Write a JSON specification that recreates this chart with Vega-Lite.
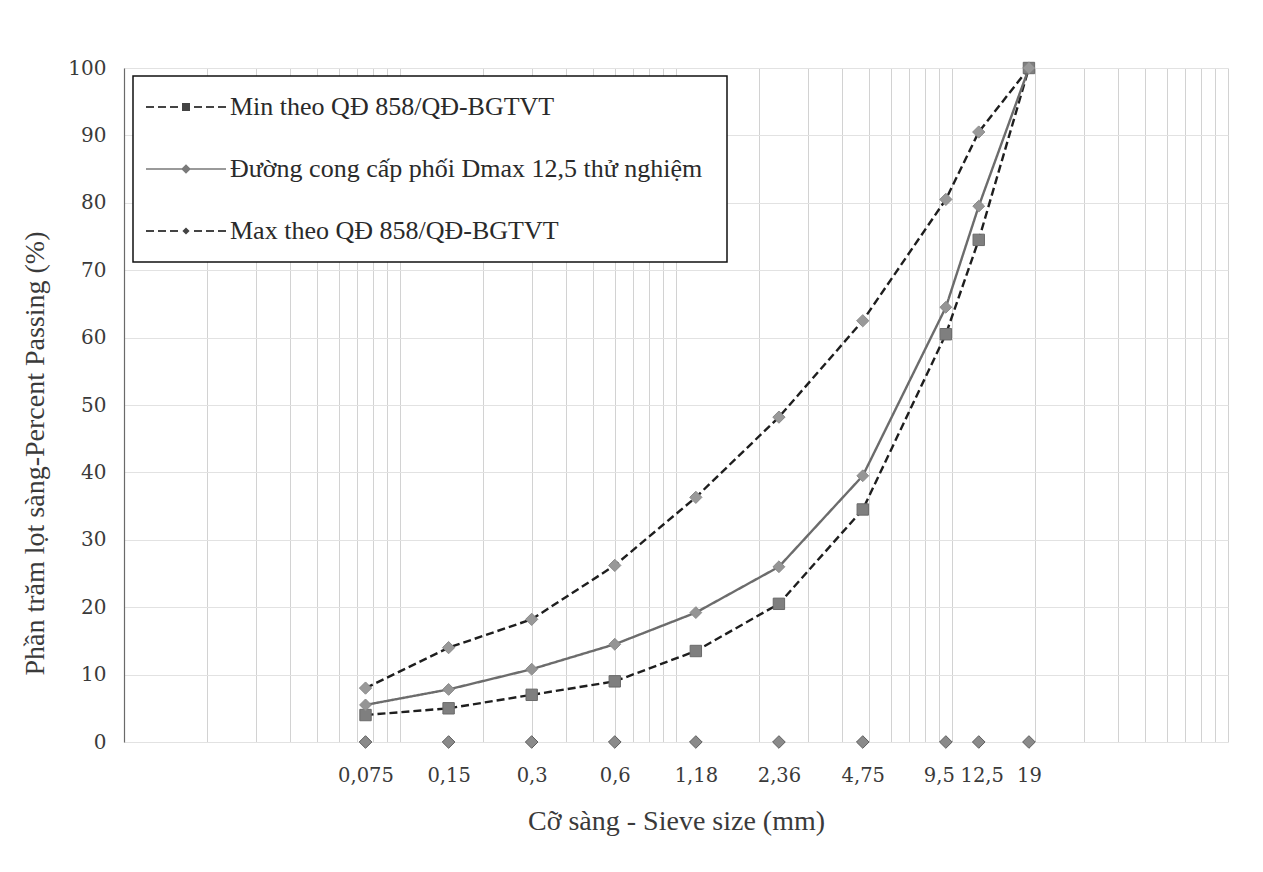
{
  "$schema": "https://vega.github.io/schema/vega-lite/v6.json",
  "width": 1104,
  "height": 674,
  "autosize": {"type": "none"},
  "padding": {"left": 124, "top": 68, "right": 35, "bottom": 130},
  "background": "white",
  "config": {
    "view": {"stroke": null},
    "font": "Liberation Serif"
  },
  "data": {
    "values": [
      {"size": 0.075, "series": "Min theo QĐ 858/QĐ-BGTVT", "pct": 4},
      {"size": 0.15, "series": "Min theo QĐ 858/QĐ-BGTVT", "pct": 5},
      {"size": 0.3, "series": "Min theo QĐ 858/QĐ-BGTVT", "pct": 7},
      {"size": 0.6, "series": "Min theo QĐ 858/QĐ-BGTVT", "pct": 9},
      {"size": 1.18, "series": "Min theo QĐ 858/QĐ-BGTVT", "pct": 13.5},
      {"size": 2.36, "series": "Min theo QĐ 858/QĐ-BGTVT", "pct": 20.5},
      {"size": 4.75, "series": "Min theo QĐ 858/QĐ-BGTVT", "pct": 34.5},
      {"size": 9.5, "series": "Min theo QĐ 858/QĐ-BGTVT", "pct": 60.5},
      {"size": 12.5, "series": "Min theo QĐ 858/QĐ-BGTVT", "pct": 74.5},
      {"size": 19, "series": "Min theo QĐ 858/QĐ-BGTVT", "pct": 100},
      {"size": 0.075, "series": "Đường cong cấp phối Dmax  12,5 thử nghiệm", "pct": 5.5},
      {"size": 0.15, "series": "Đường cong cấp phối Dmax  12,5 thử nghiệm", "pct": 7.8},
      {"size": 0.3, "series": "Đường cong cấp phối Dmax  12,5 thử nghiệm", "pct": 10.8},
      {"size": 0.6, "series": "Đường cong cấp phối Dmax  12,5 thử nghiệm", "pct": 14.5},
      {"size": 1.18, "series": "Đường cong cấp phối Dmax  12,5 thử nghiệm", "pct": 19.2},
      {"size": 2.36, "series": "Đường cong cấp phối Dmax  12,5 thử nghiệm", "pct": 26},
      {"size": 4.75, "series": "Đường cong cấp phối Dmax  12,5 thử nghiệm", "pct": 39.5},
      {"size": 9.5, "series": "Đường cong cấp phối Dmax  12,5 thử nghiệm", "pct": 64.5},
      {"size": 12.5, "series": "Đường cong cấp phối Dmax  12,5 thử nghiệm", "pct": 79.5},
      {"size": 19, "series": "Đường cong cấp phối Dmax  12,5 thử nghiệm", "pct": 100},
      {"size": 0.075, "series": "Max theo QĐ 858/QĐ-BGTVT", "pct": 8},
      {"size": 0.15, "series": "Max theo QĐ 858/QĐ-BGTVT", "pct": 14},
      {"size": 0.3, "series": "Max theo QĐ 858/QĐ-BGTVT", "pct": 18.2},
      {"size": 0.6, "series": "Max theo QĐ 858/QĐ-BGTVT", "pct": 26.2},
      {"size": 1.18, "series": "Max theo QĐ 858/QĐ-BGTVT", "pct": 36.3},
      {"size": 2.36, "series": "Max theo QĐ 858/QĐ-BGTVT", "pct": 48.2},
      {"size": 4.75, "series": "Max theo QĐ 858/QĐ-BGTVT", "pct": 62.5},
      {"size": 9.5, "series": "Max theo QĐ 858/QĐ-BGTVT", "pct": 80.5},
      {"size": 12.5, "series": "Max theo QĐ 858/QĐ-BGTVT", "pct": 90.5},
      {"size": 19, "series": "Max theo QĐ 858/QĐ-BGTVT", "pct": 100},
      {"size": 0.075, "series": "Cỡ sàng", "pct": 0},
      {"size": 0.15, "series": "Cỡ sàng", "pct": 0},
      {"size": 0.3, "series": "Cỡ sàng", "pct": 0},
      {"size": 0.6, "series": "Cỡ sàng", "pct": 0},
      {"size": 1.18, "series": "Cỡ sàng", "pct": 0},
      {"size": 2.36, "series": "Cỡ sàng", "pct": 0},
      {"size": 4.75, "series": "Cỡ sàng", "pct": 0},
      {"size": 9.5, "series": "Cỡ sàng", "pct": 0},
      {"size": 12.5, "series": "Cỡ sàng", "pct": 0},
      {"size": 19, "series": "Cỡ sàng", "pct": 0}
    ]
  },
  "encoding": {
    "y": {
      "field": "pct",
      "type": "quantitative",
      "scale": {"domain": [0, 100], "nice": false, "zero": true},
      "axis": {
        "values": [0, 10, 20, 30, 40, 50, 60, 70, 80, 90, 100],
        "title": "Phần trăm lọt sàng-Percent Passing (%)",
        "titleFont": "Liberation Serif",
        "titleFontSize": 28,
        "titleFontWeight": "normal",
        "titleColor": "#3a3a3a",
        "titleAngle": 270,
        "titleBaseline": "middle",
        "titleAlign": "center",
        "titleX": -89,
        "titleY": 385,
        "labelFont": "DejaVu Serif",
        "labelFontSize": 20,
        "labelColor": "#3a3a3a",
        "labelPadding": 18,
        "ticks": false,
        "domain": true,
        "domainColor": "#6a6a6a",
        "domainWidth": 1.2,
        "grid": true,
        "gridColor": "#e2e2e2",
        "gridWidth": 1
      }
    }
  },
  "layer": [
    {
      "mark": {"type": "point", "opacity": 0},
      "encoding": {
        "x": {
          "field": "size",
          "type": "quantitative",
          "scale": {"type": "log", "domain": [0.01, 100], "nice": false},
          "axis": {
            "orient": "bottom",
            "values": [0.01, 0.02, 0.03, 0.04, 0.05, 0.06, 0.07, 0.08, 0.09, 0.1, 0.2, 0.3, 0.4, 0.5, 0.6, 0.7, 0.8, 0.9, 1, 2, 3, 4, 5, 6, 7, 8, 9, 10, 20, 30, 40, 50, 60, 70, 80, 90, 100],
            "labels": false,
            "ticks": false,
            "domain": false,
            "grid": true,
            "gridColor": "#d2d2d2",
            "gridWidth": 1,
            "title": null
          }
        }
      }
    },
    {
      "transform": [{"filter": "datum.series !== 'Cỡ sàng'"}],
      "mark": {"type": "line", "strokeWidth": 2.4},
      "encoding": {
        "x": {
          "field": "size",
          "type": "quantitative",
          "scale": {"type": "log", "domain": [0.01, 100], "nice": false},
          "axis": {
            "orient": "bottom",
            "values": [0.075, 0.15, 0.3, 0.6, 1.18, 2.36, 4.75, 9.5, 12.5, 19],
            "labelExpr": "replace(toString(datum.value), '.', ',')",
            "labelFont": "DejaVu Serif",
            "labelFontSize": 19.5,
            "labelColor": "#3a3a3a",
            "labelPadding": 24,
            "labelOffset": {
              "condition": [
                {"test": "datum.value === 9.5", "value": -7},
                {"test": "datum.value === 12.5", "value": 3}
              ],
              "value": 0
            },
            "labelOverlap": false,
            "labelFlush": false,
            "ticks": false,
            "domain": false,
            "grid": false,
            "title": "Cỡ sàng - Sieve size (mm)",
            "titleFont": "Liberation Serif",
            "titleFontSize": 28,
            "titleFontWeight": "normal",
            "titleColor": "#3a3a3a",
            "titlePadding": 23
          }
        },
        "color": {
          "field": "series",
          "type": "nominal",
          "scale": {
            "domain": ["Min theo QĐ 858/QĐ-BGTVT", "Đường cong cấp phối Dmax  12,5 thử nghiệm", "Max theo QĐ 858/QĐ-BGTVT"],
            "range": ["#1e1e1e", "#6c6c6c", "#1e1e1e"]
          },
          "legend": {
            "orient": "none",
            "legendX": 9,
            "legendY": 8,
            "title": null,
            "direction": "vertical",
            "strokeColor": "#111111",
            "fillColor": "white",
            "padding": 18,
            "rowPadding": 36,
            "symbolSize": 256,
            "symbolOffset": 22,
            "labelOffset": 31,
            "labelFont": "Liberation Serif",
            "labelFontSize": 26,
            "labelColor": "#2a2a2a",
            "labelLimit": 0,
            "encode": {
              "legend": {
                "update": {
                  "strokeWidth": {"value": 1.5}
                }
              },
              "symbols": {
                "update": {
                  "shape": {"signal": "test(/^Min/, datum.value) ? 'M-5,-0.13H-4V0.13H-5Z M-3.5,-0.13H-2.5V0.13H-3.5Z M-2,-0.13H-1V0.13H-2Z M-0.5,-0.5H0.5V0.5H-0.5Z M1,-0.13H2V0.13H1Z M2.5,-0.13H3.5V0.13H2.5Z M4,-0.13H5V0.13H4Z' : test(/^Max/, datum.value) ? 'M-5,-0.13H-4V0.13H-5Z M-3.5,-0.13H-2.5V0.13H-3.5Z M-2,-0.13H-1V0.13H-2Z M0,-0.45L0.45,0L0,0.45L-0.45,0Z M1,-0.13H2V0.13H1Z M2.5,-0.13H3.5V0.13H2.5Z M4,-0.13H5V0.13H4Z' : 'M-5,-0.1H5V0.1H-5Z M0,-0.6L0.6,0L0,0.6L-0.6,0Z'"},
                  "size": {"value": 256},
                  "fill": {"signal": "test(/^Đ/, datum.value) ? '#7a7a7a' : '#444444'"},
                  "fillOpacity": {"value": 1},
                  "stroke": {"value": "transparent"},
                  "strokeWidth": {"value": 0},
                  "strokeDash": {"value": [1, 0]},
                  "opacity": {"value": 1}
                }
              }
            }
          }
        },
        "strokeDash": {
          "field": "series",
          "type": "nominal",
          "scale": {
            "domain": ["Min theo QĐ 858/QĐ-BGTVT", "Đường cong cấp phối Dmax  12,5 thử nghiệm", "Max theo QĐ 858/QĐ-BGTVT"],
            "range": [[8, 4], [1, 0], [8, 4]]
          },
          "legend": null
        }
      }
    },
    {
      "mark": {"type": "point", "filled": true, "opacity": 1, "strokeWidth": 1},
      "encoding": {
        "x": {
          "field": "size",
          "type": "quantitative",
          "scale": {"type": "log", "domain": [0.01, 100], "nice": false},
          "axis": null
        },
        "shape": {
          "field": "series",
          "type": "nominal",
          "scale": {
            "domain": ["Min theo QĐ 858/QĐ-BGTVT", "Đường cong cấp phối Dmax  12,5 thử nghiệm", "Max theo QĐ 858/QĐ-BGTVT", "Cỡ sàng"],
            "range": ["square", "diamond", "diamond", "diamond"]
          },
          "legend": null
        },
        "size": {
          "field": "series",
          "type": "nominal",
          "scale": {
            "domain": ["Min theo QĐ 858/QĐ-BGTVT", "Đường cong cấp phối Dmax  12,5 thử nghiệm", "Max theo QĐ 858/QĐ-BGTVT", "Cỡ sàng"],
            "range": [130, 160, 100, 240]
          },
          "legend": null
        },
        "fill": {
          "field": "series",
          "type": "nominal",
          "scale": {
            "domain": ["Min theo QĐ 858/QĐ-BGTVT", "Đường cong cấp phối Dmax  12,5 thử nghiệm", "Max theo QĐ 858/QĐ-BGTVT", "Cỡ sàng"],
            "range": ["#7f7f7f", "#959595", "#999999", "#8a8a8a"]
          },
          "legend": null
        },
        "stroke": {
          "field": "series",
          "type": "nominal",
          "scale": {
            "domain": ["Min theo QĐ 858/QĐ-BGTVT", "Đường cong cấp phối Dmax  12,5 thử nghiệm", "Max theo QĐ 858/QĐ-BGTVT", "Cỡ sàng"],
            "range": ["#6a6a6a", "#8a8a8a", "#8a8a8a", "#5e5e5e"]
          },
          "legend": null
        }
      }
    }
  ],
  "resolve": {"axis": {"x": "independent"}}
}
